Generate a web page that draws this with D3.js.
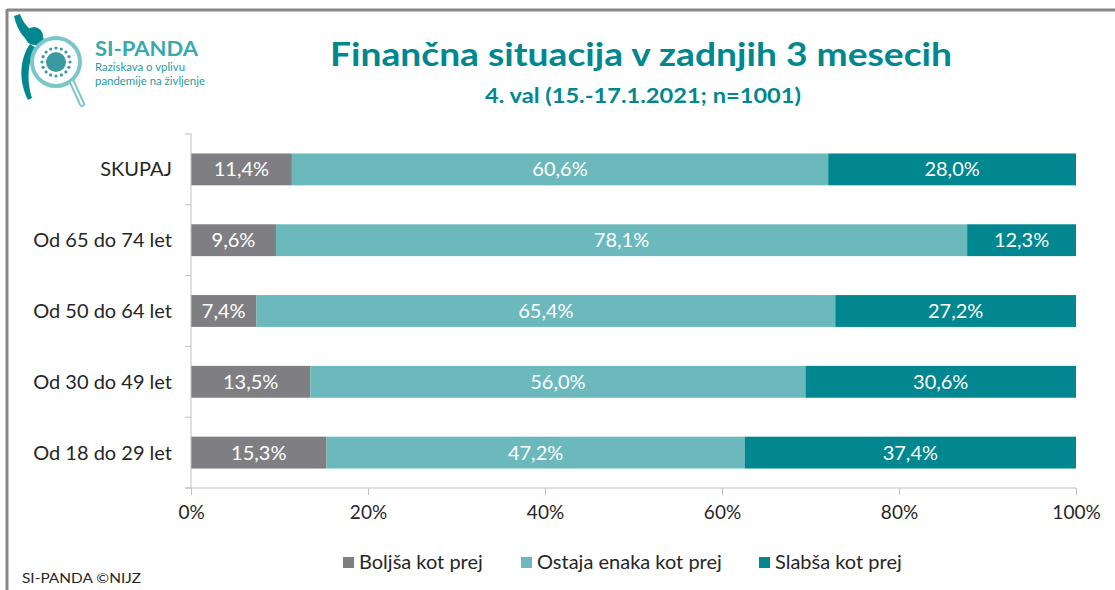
<!DOCTYPE html>
<html>
<head>
<meta charset="utf-8">
<script src="https://cdn.jsdelivr.net/npm/d3@7"></script>
<style>
  body { margin: 0; background: #fff; }
  svg { display: block; }
  text { font-family: Lato, "Open Sans", sans-serif; }
</style>
</head>
<body>
<div class="viz"></div>
<script>
const categories = ["SKUPAJ", "Od 65 do 74 let", "Od 50 do 64 let", "Od 30 do 49 let", "Od 18 do 29 let"];
const seriesNames = ["Boljša kot prej", "Ostaja enaka kot prej", "Slabša kot prej"];
const boljsa = [11.4, 9.6, 7.4, 13.5, 15.3];
const enaka = [60.6, 78.1, 65.4, 56.0, 47.2];
const slabsa = [28.0, 12.3, 27.2, 30.6, 37.4];
const tickValues = [0, 0.2, 0.4, 0.6, 0.8, 1];

const colors = ["#7f7f83", "#6cb9bd", "#00878f"];
const width = 1115, height = 590;

const svg = d3.select('.viz').append('svg')
  .attr('width', width).attr('height', height);

// outer frame (top + left)
svg.append('line').attr('x1', 7).attr('x2', width).attr('y1', 10).attr('y2', 10)
  .attr('stroke', '#888').attr('stroke-width', 3);
svg.append('line').attr('x1', 7).attr('x2', 7).attr('y1', 9).attr('y2', height)
  .attr('stroke', '#888').attr('stroke-width', 3);

// logo
const logo = svg.append('g');
logo.append('path')
  .attr('d', 'M14,16 C18,34 28,44 40,46 L44,38 C34,34 24,26 20,14 Z')
  .attr('fill', '#00878f');
logo.append('circle').attr('cx', 34).attr('cy', 36).attr('r', 9).attr('fill', '#00878f');
logo.append('path')
  .attr('d', 'M30,44 C20,58 18,80 28,100 L32,98 C26,80 28,60 36,48 Z')
  .attr('fill', '#00878f');
logo.append('circle').attr('cx', 56).attr('cy', 62).attr('r', 24)
  .attr('fill', 'none').attr('stroke', '#7cc6c9').attr('stroke-width', 4);
logo.append('line').attr('x1', 72).attr('y1', 82).attr('x2', 82).attr('y2', 104)
  .attr('stroke', '#7cc6c9').attr('stroke-width', 6).attr('stroke-linecap', 'round');
logo.append('line').attr('x1', 72).attr('y1', 82).attr('x2', 82).attr('y2', 104)
  .attr('stroke', '#fff').attr('stroke-width', 2).attr('stroke-linecap', 'round');
logo.append('circle').attr('cx', 56).attr('cy', 62).attr('r', 10).attr('fill', '#3a9aa0');
for (let i = 0; i < 16; i++) {
  const a = i / 16 * Math.PI * 2;
  logo.append('circle')
    .attr('cx', 56 + Math.cos(a) * 14).attr('cy', 62 + Math.sin(a) * 14)
    .attr('r', 1.6).attr('fill', '#3a9aa0');
}
logo.append('text').attr('x', 95).attr('y', 56)
  .attr('font-size', 21).attr('font-weight', 700).attr('fill', '#3aa9ae')
  .attr('textLength', 103).attr('lengthAdjust', 'spacingAndGlyphs')
  .text('SI-PANDA');
logo.append('text').attr('x', 95).attr('y', 71)
  .attr('font-size', 12).attr('fill', '#2a9aa0')
  .attr('textLength', 90).attr('lengthAdjust', 'spacingAndGlyphs')
  .text('Raziskava o vplivu');
logo.append('text').attr('x', 95).attr('y', 85)
  .attr('font-size', 12).attr('fill', '#2a9aa0')
  .attr('textLength', 110).attr('lengthAdjust', 'spacingAndGlyphs')
  .text('pandemije na življenje');

// titles
svg.append('text').attr('x', 641).attr('y', 66)
  .attr('text-anchor', 'middle').attr('font-size', 32).attr('font-weight', 700)
  .attr('fill', '#00878f').attr('textLength', 622).attr('lengthAdjust', 'spacingAndGlyphs')
  .text('Finančna situacija v zadnjih 3 mesecih');
svg.append('text').attr('x', 643).attr('y', 103)
  .attr('text-anchor', 'middle').attr('font-size', 20).attr('font-weight', 700)
  .attr('fill', '#00878f').attr('textLength', 316).attr('lengthAdjust', 'spacingAndGlyphs')
  .text('4. val (15.-17.1.2021; n=1001)');

// scales
const x = d3.scaleLinear().domain([0, 1]).range([191, 1076]);
const y = d3.scaleBand().domain(categories).range([134, 488]).paddingInner(0.55).paddingOuter(0.275);

const rows = categories.map((c, i) => ({ cat: c, s0: boljsa[i], s1: enaka[i], s2: slabsa[i] }));
const stack = d3.stack().keys(['s0', 's1', 's2']).offset(d3.stackOffsetExpand);
const layers = stack(rows);

const fmt = v => v.toFixed(1).replace('.', ',') + '%';

const g = svg.append('g');
layers.forEach((layer, li) => {
  g.selectAll('.bar' + li)
    .data(layer)
    .join('rect')
    .attr('x', d => x(d[0]))
    .attr('width', d => x(d[1]) - x(d[0]))
    .attr('y', d => y(d.data.cat))
    .attr('height', y.bandwidth())
    .attr('fill', colors[li]);

  g.selectAll('.lab' + li)
    .data(layer)
    .join('text')
    .attr('x', d => (x(d[0]) + x(d[1])) / 2)
    .attr('y', d => y(d.data.cat) + y.bandwidth() / 2 + 7)
    .attr('text-anchor', 'middle')
    .attr('font-size', 20)
    .attr('fill', '#fff')
    .text(d => fmt(d.data[layer.key]));
});

// category axis
const band = 354 / categories.length;
const yAxis = svg.append('g');
yAxis.append('line').attr('x1', 191).attr('x2', 191).attr('y1', 134).attr('y2', 488)
  .attr('stroke', '#bfbfbf');
d3.range(categories.length + 1).forEach(i => {
  yAxis.append('line').attr('x1', 185).attr('x2', 191)
    .attr('y1', 134 + i * band).attr('y2', 134 + i * band).attr('stroke', '#bfbfbf');
});
yAxis.selectAll('.cat')
  .data(categories)
  .join('text')
  .attr('x', 172)
  .attr('y', d => y(d) + y.bandwidth() / 2 + 7)
  .attr('text-anchor', 'end')
  .attr('font-size', 20)
  .attr('fill', '#262626')
  .text(d => d);

// value axis
const xAxis = svg.append('g').attr('transform', 'translate(0,488)')
  .call(d3.axisBottom(x).tickValues(tickValues).tickFormat(d3.format('.0%')).tickSize(7).tickPadding(11));
xAxis.select('.domain').attr('stroke', '#bfbfbf').attr('d', 'M185,0H1076');
xAxis.selectAll('.tick line').attr('stroke', '#bfbfbf');
xAxis.selectAll('.tick text').attr('font-size', 19).attr('fill', '#262626')
  .attr('font-family', 'Lato, "Open Sans", sans-serif');

// legend
const legendX = [343, 521, 759];
const legend = svg.append('g');
seriesNames.forEach((n, i) => {
  legend.append('rect').attr('x', legendX[i]).attr('y', 557).attr('width', 11).attr('height', 11)
    .attr('fill', colors[i]);
  legend.append('text').attr('x', legendX[i] + 16).attr('y', 569)
    .attr('font-size', 20).attr('fill', '#262626').text(n);
});

svg.append('text').attr('x', 22).attr('y', 583).attr('font-size', 14).attr('fill', '#262626')
  .attr('font-family', '"Liberation Sans", Arial, sans-serif')
  .attr('textLength', 119).attr('lengthAdjust', 'spacingAndGlyphs')
  .text('SI-PANDA ©NIJZ');
</script>
</body>
</html>
